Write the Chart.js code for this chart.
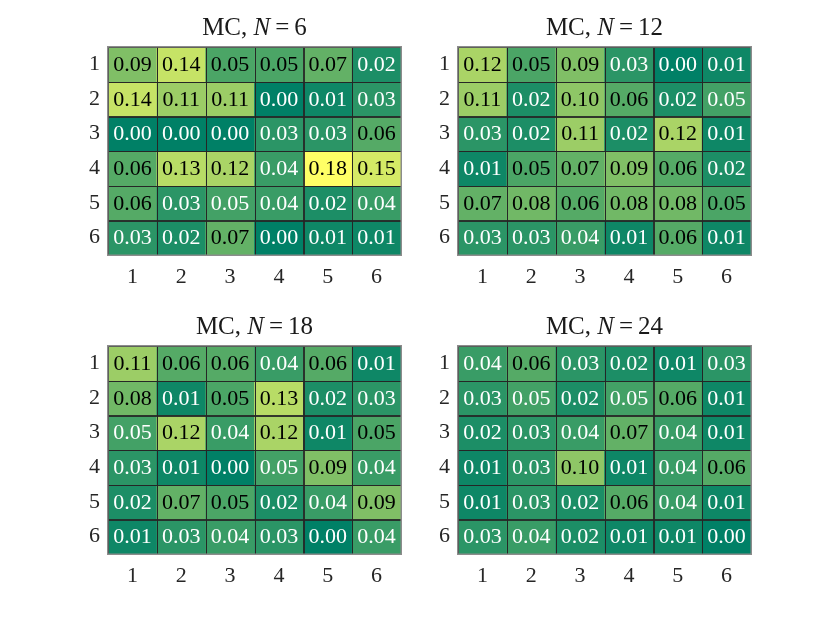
<!DOCTYPE html>
<html>
<head>
<meta charset="utf-8">
<script src="https://cdn.jsdelivr.net/npm/chart.js@4.4.1/dist/chart.umd.min.js"></script>
<style>
  html, body { margin: 0; padding: 0; background: #fff; }
  #wrap { position: relative; width: 830px; height: 623px; overflow: hidden; }
  canvas { position: absolute; }
  .ttl { position: absolute; width: 293px; text-align: center; font-family: "Liberation Serif", serif;
         font-size: 25px; line-height: 28px; color: #1a1a1a; white-space: nowrap; }
  .ttl .eq { margin: 0 0.2em; }
</style>
</head>
<body>
<div id="wrap"></div>
<script>
// ---- data ----
const rowLabels = ['1', '2', '3', '4', '5', '6'];
const colLabels = ['1', '2', '3', '4', '5', '6'];
const sampleSizes = [6, 12, 18, 24];

const valuesN6 = [
  [0.09, 0.14, 0.053, 0.053, 0.07, 0.02],
  [0.14, 0.11, 0.11, 0.00, 0.01, 0.03],
  [0.00, 0.00, 0.00, 0.03, 0.03, 0.06],
  [0.06, 0.13, 0.12, 0.04, 0.18, 0.15],
  [0.06, 0.03, 0.047, 0.04, 0.02, 0.04],
  [0.03, 0.02, 0.07, 0.00, 0.01, 0.01]
];
const valuesN12 = [
  [0.12, 0.053, 0.09, 0.03, 0.00, 0.01],
  [0.11, 0.02, 0.10, 0.06, 0.02, 0.047],
  [0.03, 0.02, 0.11, 0.02, 0.12, 0.01],
  [0.01, 0.053, 0.07, 0.09, 0.06, 0.02],
  [0.07, 0.08, 0.06, 0.08, 0.08, 0.053],
  [0.03, 0.03, 0.04, 0.01, 0.06, 0.01]
];
const valuesN18 = [
  [0.11, 0.06, 0.06, 0.04, 0.06, 0.01],
  [0.08, 0.01, 0.053, 0.13, 0.02, 0.03],
  [0.047, 0.12, 0.04, 0.12, 0.01, 0.053],
  [0.03, 0.01, 0.00, 0.047, 0.09, 0.04],
  [0.02, 0.07, 0.053, 0.02, 0.04, 0.09],
  [0.01, 0.03, 0.04, 0.03, 0.00, 0.04]
];
const valuesN24 = [
  [0.04, 0.06, 0.03, 0.02, 0.01, 0.03],
  [0.03, 0.047, 0.02, 0.047, 0.06, 0.01],
  [0.02, 0.03, 0.04, 0.07, 0.04, 0.01],
  [0.01, 0.03, 0.10, 0.01, 0.04, 0.06],
  [0.01, 0.03, 0.02, 0.06, 0.04, 0.01],
  [0.03, 0.04, 0.02, 0.01, 0.01, 0.00]
];
const allValues = [valuesN6, valuesN12, valuesN18, valuesN24];

// ---- styling ----
const FONT = '"Liberation Serif", serif';
const cMax = Math.max(...allValues.flat(2));
const cMin = 0;
function summer(v) {
  let t = (v - cMin) / (cMax - cMin);
  t = Math.max(0, Math.min(1, t));
  const r = Math.round(255 * t);
  const g = Math.round(255 * (0.5 + 0.5 * t));
  const b = Math.round(255 * 0.4);
  return `rgb(${r},${g},${b})`;
}
function textColor(v) {
  let t = (v - cMin) / (cMax - cMin);
  const lum = 0.299 * t + 0.587 * (0.5 + 0.5 * t) + 0.114 * 0.4;
  return lum > 0.5 ? '#000' : '#fff';
}

const cellPlugin = {
  id: 'cells',
  afterDatasetsDraw(chart) {
    const ctx = chart.ctx;
    const vals = chart.options.plugins.cells.values;
    ctx.save();
    // cell edges
    ctx.strokeStyle = 'rgba(38,38,38,0.9)';
    ctx.lineWidth = 1;
    chart.data.datasets.forEach((ds, di) => {
      const meta = chart.getDatasetMeta(di);
      meta.data.forEach((el) => {
        const l = Math.round(el.x - el.width / 2) + 0.5;
        const top = Math.round(Math.min(el.y, el.base)) + 0.5;
        const w = Math.round(el.width);
        const h = Math.round(Math.abs(el.base - el.y));
        ctx.strokeRect(l, top, w, h);
      });
    });
    // labels
    ctx.font = '22px ' + FONT;
    ctx.textAlign = 'center';
    ctx.textBaseline = 'middle';
    chart.data.datasets.forEach((ds, di) => {
      const meta = chart.getDatasetMeta(di);
      meta.data.forEach((el, ci) => {
        const v = vals[di][ci];
        ctx.fillStyle = textColor(v);
        ctx.fillText(v.toFixed(2), el.x, (el.y + el.base) / 2 + 1);
      });
    });
    // outer box
    const a = chart.chartArea;
    ctx.strokeStyle = 'rgba(140,140,140,1)';
    ctx.lineWidth = 1.5;
    ctx.strokeRect(a.left - 0.25, a.top - 0.25, a.right - a.left + 0.5, a.bottom - a.top + 0.5);
    ctx.restore();
  }
};

const wrap = document.getElementById('wrap');
const offsets = [[0, 0], [350, 0], [0, 299], [350, 299]];
const CW = 420, CH = 300;

allValues.forEach((vals, k) => {
  const [ox, oy] = offsets[k];
  const cv = document.createElement('canvas');
  cv.width = CW; cv.height = CH;
  cv.style.left = ox + 'px'; cv.style.top = oy + 'px';
  cv.style.width = CW + 'px'; cv.style.height = CH + 'px';
  wrap.appendChild(cv);

  const t = document.createElement('div');
  t.className = 'ttl';
  t.style.left = (ox + 108) + 'px';
  t.style.top = (oy + 13) + 'px';
  t.innerHTML = 'MC, <i>N</i><span class="eq">=</span>' + sampleSizes[k];
  wrap.appendChild(t);

  const datasets = rowLabels.map((rl, ri) => ({
    label: 'row ' + rl,
    data: colLabels.map(() => [ri + 0.5, ri + 1.5]),
    backgroundColor: (c) => summer(vals[c.datasetIndex][c.dataIndex]),
    borderWidth: 0,
    barPercentage: 1,
    categoryPercentage: 1,
    grouped: false
  }));

  new Chart(cv.getContext('2d'), {
    type: 'bar',
    data: { labels: colLabels, datasets },
    plugins: [cellPlugin],
    options: {
      responsive: false,
      animation: false,
      devicePixelRatio: 1,
      layout: { padding: { left: 0, right: CW - 401, top: 47, bottom: 0 } },
      plugins: {
        legend: { display: false },
        tooltip: { enabled: false },
        title: { display: false },
        cells: { values: vals }
      },
      scales: {
        x: {
          type: 'category',
          grid: { display: false, drawTicks: false },
          border: { display: false },
          ticks: { font: { family: FONT, size: 22 }, color: '#262626', padding: 9, maxRotation: 0 },
          afterFit: (s) => { s.height = CH - 255; }
        },
        y: {
          type: 'linear',
          min: 0.5, max: 6.5,
          reverse: true,
          grid: { display: false, drawTicks: false },
          border: { display: false },
          afterBuildTicks: (s) => { s.ticks = rowLabels.map((l, i) => ({ value: i + 1 })); },
          ticks: {
            font: { family: FONT, size: 22 }, color: '#262626', padding: 8,
            callback: (v) => rowLabels[Math.round(v) - 1]
          },
          afterFit: (s) => { s.width = 108; }
        }
      }
    }
  });
});
</script>
</body>
</html>
